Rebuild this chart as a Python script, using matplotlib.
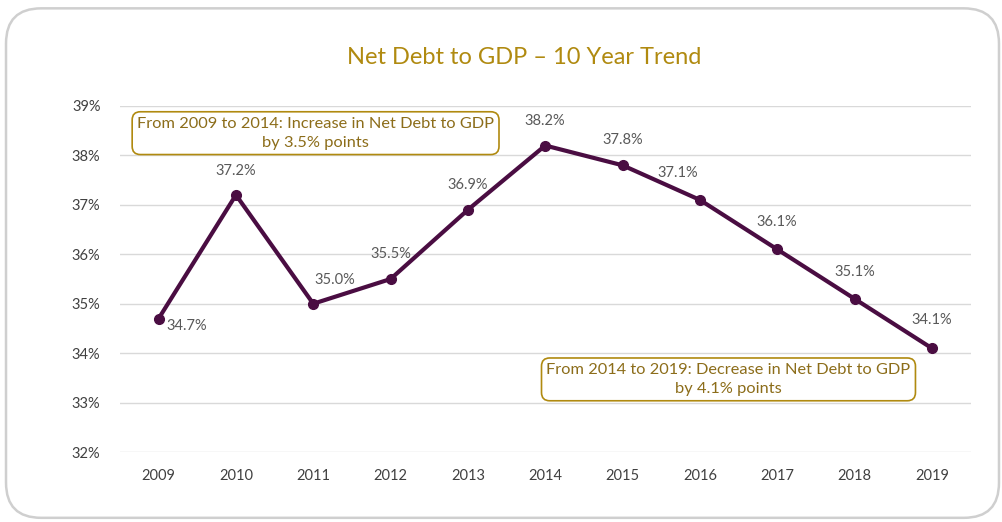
import numpy as np
import matplotlib.pyplot as plt
from matplotlib.patches import FancyBboxPatch
from matplotlib.ticker import FuncFormatter

plt.rcParams['font.family'] = ['Lato', 'DejaVu Sans']

# 数据
years = ['2009', '2010', '2011', '2012', '2013', '2014', '2015', '2016', '2017', '2018', '2019']
debt_pct = [34.7, 37.2, 35.0, 35.5, 36.9, 38.2, 37.8, 37.1, 36.1, 35.1, 34.1]
# 标签偏移 (像素)
label_off = [(28, -7), (0, 24), (22, 24), (0, 25), (0, 25), (0, 25),
             (0, 25), (-22, 27), (0, 27), (0, 27), (0, 28)]
note_left = 'From 2009 to 2014: Increase in Net Debt to GDP\nby 3.5% points'
note_right = 'From 2014 to 2019: Decrease in Net Debt to GDP\nby 4.1% points'

line_c = '#4A0D42'
gold = '#B08A10'
note_c = '#8C6D1A'

fig = plt.figure(figsize=(10.03, 5.22), dpi=100)

# 外框
frame = FancyBboxPatch((0.006, 0.008), 0.99, 0.976, boxstyle='round,pad=0,rounding_size=0.035',
                       transform=fig.transFigure, fc='white', ec='#CFCFCF', lw=1.8,
                       mutation_aspect=1003 / 522, zorder=-1)
fig.patches.append(frame)

ax = fig.add_axes([0.1196, 0.134, 0.848, 0.663], zorder=2)
ax.set_facecolor('none')
x = np.arange(len(years))
ax.plot(x, debt_pct, color=line_c, lw=3, marker='o', ms=7, zorder=3)
for xi, v, off in zip(x, debt_pct, label_off):
    ax.annotate(f'{v:.1f}%', (xi, v), xytext=off, textcoords='offset pixels',
                ha='center', va='center', fontsize=10.5, color='#595959')

ax.set_xlim(-0.5, len(years) - 0.5)
ax.set_ylim(32, 39)
ax.set_xticks(x)
ax.set_xticklabels(years)
ax.set_yticks(np.arange(32, 40))
ax.yaxis.set_major_formatter(FuncFormatter(lambda v, p: f'{v:.0f}%'))
ax.grid(axis='y', color='#D9D9D9', lw=1)
ax.set_axisbelow(True)
for s in ax.spines.values():
    s.set_visible(False)
ax.tick_params(length=0, labelsize=10.5, colors='#404040')
ax.tick_params(axis='x', pad=12)
ax.tick_params(axis='y', pad=14)

box = dict(boxstyle='round,pad=0.3,rounding_size=0.5', fc='white', ec=gold, lw=1.2)
ax.text(2.03, 38.45, note_left, ha='center', va='center', fontsize=11.8,
        color=note_c, bbox=box, linespacing=1.45, zorder=4)
ax.text(7.37, 33.47, note_right, ha='center', va='center', fontsize=11.8,
        color=note_c, bbox=box, linespacing=1.45, zorder=4)

fig.text(0.523, 0.89, 'Net Debt to GDP \u2013 10 Year Trend', ha='center', va='center',
         fontsize=17, color=gold)

fig.savefig('out.png', dpi=100)
